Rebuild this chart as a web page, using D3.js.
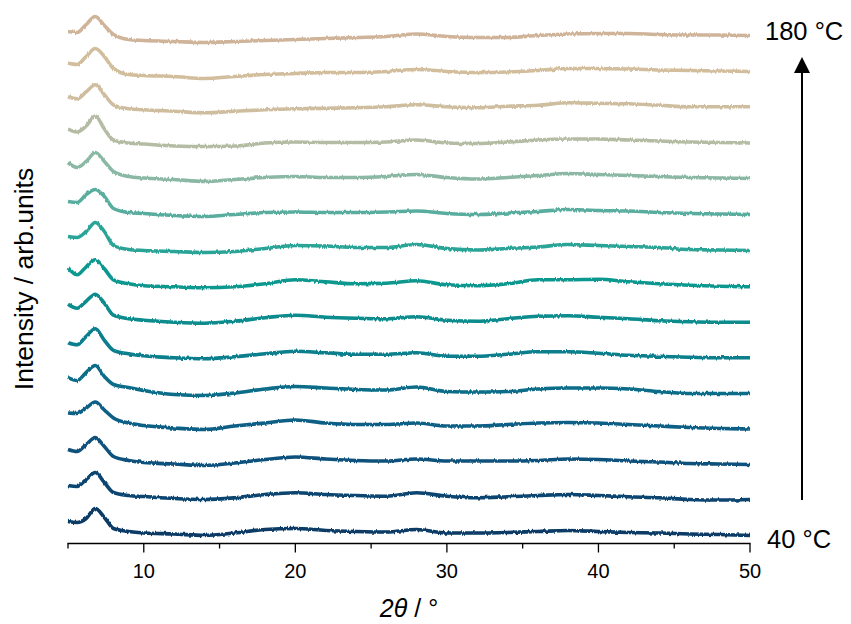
<!DOCTYPE html>
<meta charset="utf-8">
<script src="https://d3js.org/d3.v7.min.js"></script>
<style>
  body { margin: 0; background: #fff; }
  #chart text { font-family: "Liberation Sans", Arial, sans-serif; fill: #000; }
</style>
<div id="chart"></div>
<script>
// 2theta grid (deg) shared by all scans
var twoTheta = [5, 5.6, 6.2, 6.8, 7.4, 8, 9, 10, 12, 14, 16, 18, 20, 22, 24, 26, 28, 30, 32, 34, 36, 38, 40, 42, 44, 46, 48, 50];

// intensity (arb. units) relative to each scan's value at 50 deg
var i40  = [14, 13, 17, 27, 18, 7, 4, 2.5, 1.5, 0, 2.5, 6, 7, 5, 4, 3.5, 6, 2.5, 2.5, 3, 4, 5, 4, 3, 2.5, 1.5, 1, 0];
var i50  = [14, 13, 20, 27, 17, 7, 4, 3, 1, 0, 1.7, 5, 6.7, 5, 4, 3.3, 6.7, 3.3, 1.7, 2.7, 4, 5, 4, 2.7, 1.7, 0, -0.5, 0];
var i60  = [15, 13, 20, 27, 18, 8, 4, 2, 0.5, -1, 1.5, 5, 7.5, 5.5, 4, 3.5, 5.5, 3.5, 3.5, 3.5, 4, 5.5, 5, 3.5, 2.5, 1, 0.5, 0];
var i70  = [16, 15.5, 21, 27, 19, 11, 6, 3.5, 1, -0.5, 3, 6, 9, 6, 4.5, 4.5, 6, 3, 3, 4.5, 6, 6.5, 6, 4.5, 3, 1.5, 0.5, 0];
var i80  = [16, 13, 21, 28, 17, 9, 6, 3, -1, -2, 0.5, 4.5, 7, 5.5, 4, 3.5, 6.5, 2, 1.5, 2, 4.5, 5.5, 5.5, 4.5, 2, 0, 0, 0];
var i90  = [15, 13, 21.5, 29, 17.5, 7.5, 4, 2, 0, -1, 1, 4, 6.5, 5, 3.5, 3.5, 5, 1.5, 1.5, 3.5, 6, 6, 4.5, 2.5, 1.5, 0.5, 0, 0];
var i100 = [18, 14, 21, 28, 19, 7, 3.5, 2, 0, -1, 1, 4.5, 7, 5, 4, 3.5, 5.5, 2, 1, 3.5, 6, 6.5, 5, 3.5, 1.5, 0.5, 0, 0];
var i110 = [19, 12, 20, 27, 18, 7, 3, 1, 0, -1, 0, 3, 7, 5, 3, 3.5, 6, 2, 1, 3, 7, 7, 7.5, 5, 3, 1.5, 0.5, 0];
var i120 = [14, 13, 19, 28, 19, 5, 1, 0, -1, -2, -1, 2, 5, 4.5, 3, 3, 6, 2, 0.5, 2, 3.5, 6, 5, 4, 3, 1, 0.5, 0];
var i130 = [13, 12, 20, 25, 18, 6, 2, 1, -1, -2, 0, 2, 2.5, 2, 2, 2.5, 3.5, 1, 0, 1.5, 3, 5, 4, 3.5, 2, 1, 0.5, 0];
var i140 = [16, 11, 17, 26, 17, 7, 2, 0.5, -1, -3, -1, 1, 2, 1, 1, 2, 4, 1, -0.5, 1, 3, 5, 4, 3, 2, 1, 0.5, 0];
var i150 = [14, 11, 17, 27, 14, 3, 0, -1, -3, -3.5, -3, 0, 1, 0.5, 0.5, 1, 3, 0, -0.5, 1, 3, 4, 4, 3, 2, 1, 0.5, 0];
var i160 = [10, 8, 15, 22, 12, 2, -2, -3, -4.5, -6, -4.5, -3, -2, -1.5, -1, 0, 2, 0, -1, 0.5, 1.5, 4, 3.5, 3, 1.5, 0, 0, 0];
var i170 = [8.5, 7, 15, 23, 15, 3, -3, -4, -5, -7, -5, -3, -2, -1, -1, 0, 2, 0, -1, -0.5, 1, 3, 3, 2.5, 1.5, 1, 0.5, 0];
var i180 = [4, 3, 11, 19, 10, 1, -4, -5, -6, -7, -6, -5, -4, -3, -2, -1, 1.5, -1, -2, -2, 0, 1.5, 2, 2, 1, 0.5, 0.5, 0];

var temps   = [40, 50, 60, 70, 80, 90, 100, 110, 120, 130, 140, 150, 160, 170, 180];
var offsets = [8, 44, 79, 114.5, 150, 185.7, 221.3, 256.7, 293, 329, 365, 400.5, 436.7, 472, 508];
var colors  = ["#073a66", "#0a4571", "#0b517b", "#0b5f85", "#096d89", "#077e8c", "#088b8d", "#11988f",
               "#2aa496", "#58ad9e", "#8bb8a5", "#b4bca3", "#cebe9f", "#d2bd9c", "#d0b49a"];
var xTicks = [10, 20, 30, 40, 50];
var xMinor = [5, 15, 25, 35, 45];

var scans = [i40, i50, i60, i70, i80, i90, i100, i110, i120, i130, i140, i150, i160, i170, i180];

var W = 851, H = 624;
var svg = d3.select("#chart").append("svg").attr("width", W).attr("height", H);

var x = d3.scaleLinear().domain([5, 50]).range([68, 750]);
var y = d3.scaleLinear().domain([0, 540]).range([543.5, 3.5]);

// vertical-only jitter filter (one per scan) to mimic counting noise
var defs = svg.append("defs");
temps.forEach(function(t, k) {
  var f = defs.append("filter").attr("id", "noisy" + k)
    .attr("x", "-2%").attr("y", "-60%").attr("width", "104%").attr("height", "220%");
  f.append("feTurbulence").attr("type", "fractalNoise").attr("baseFrequency", "0.6 0.05")
    .attr("numOctaves", 3).attr("seed", k + 2).attr("result", "n");
  f.append("feColorMatrix").attr("in", "n").attr("type", "matrix")
    .attr("values", "0 0 0 0 0.5  0 1 0 0 0  0 0 1 0 0  0 0 0 0 1").attr("result", "m");
  f.append("feDisplacementMap").attr("in", "SourceGraphic").attr("in2", "m")
    .attr("scale", 2.8).attr("xChannelSelector", "R").attr("yChannelSelector", "G");
});

var line = d3.line().curve(d3.curveMonotoneX);

scans.forEach(function(s, k) {
  var shift = y(offsets[k]) - 10;
  var pts = twoTheta.map(function(t, j) { return [x(t), y(offsets[k] + s[j]) - shift]; });
  svg.append("g").attr("transform", "translate(0," + shift + ")")
    .append("path")
    .attr("d", line(pts))
    .attr("fill", "none")
    .attr("stroke", colors[k])
    .attr("stroke-width", 3.6)
    .attr("stroke-linejoin", "round")
    .attr("filter", "url(#noisy" + k + ")");
});

// x axis
var axis = svg.append("g").attr("transform", "translate(0,543.5)");
axis.append("line").attr("x1", 67.4).attr("x2", 750.6).attr("stroke", "#000").attr("stroke-width", 1.3);
axis.selectAll(".maj").data(xTicks).enter().append("line")
  .attr("x1", function(d) { return x(d); }).attr("x2", function(d) { return x(d); })
  .attr("y1", 0).attr("y2", 9).attr("stroke", "#000").attr("stroke-width", 1.3);
axis.selectAll(".min").data(xMinor).enter().append("line")
  .attr("x1", function(d) { return x(d); }).attr("x2", function(d) { return x(d); })
  .attr("y1", 0).attr("y2", 5).attr("stroke", "#000").attr("stroke-width", 1.3);
axis.selectAll(".lab").data(xTicks).enter().append("text")
  .attr("x", function(d) { return x(d); }).attr("y", 34.5)
  .attr("text-anchor", "middle").style("font-size", "20px")
  .text(function(d) { return d; });

// axis titles
var xt = svg.append("text").attr("x", 409).attr("y", 617).attr("text-anchor", "middle").style("font-size", "25px");
xt.append("tspan").style("font-style", "italic").text("2θ");
xt.append("tspan").text(" / °");

svg.append("text").attr("transform", "translate(33,279) rotate(-90)")
  .attr("text-anchor", "middle").style("font-size", "26.5px")
  .text("Intensity / arb.units");

// temperature arrow
svg.append("line").attr("x1", 802).attr("x2", 802).attr("y1", 500).attr("y2", 70)
  .attr("stroke", "#000").attr("stroke-width", 2);
svg.append("path").attr("d", "M802,57 L794,73 L810,73 Z").attr("fill", "#000");

svg.append("text").attr("x", 765).attr("y", 40).style("font-size", "25.5px").text("180 °C");
svg.append("text").attr("x", 767).attr("y", 548).style("font-size", "25.5px").text("40 °C");
</script>
